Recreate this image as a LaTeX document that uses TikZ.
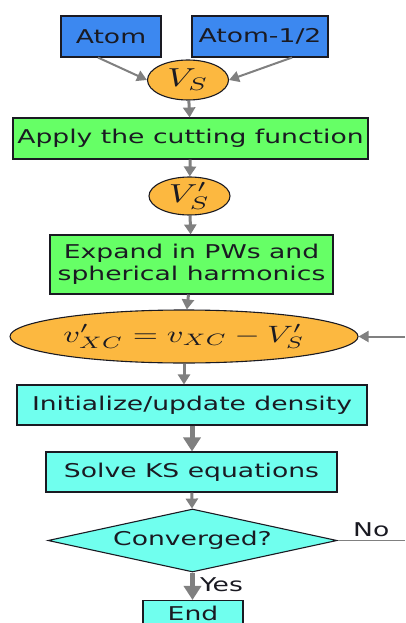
\documentclass[tikz,border=0pt]{standalone}
\usepackage{fontspec}
\newfontfamily\flowfont[FakeStretch=1.4]{DejaVu Sans}
\usetikzlibrary{shapes.geometric,arrows.meta}
\definecolor{atomblue}{RGB}{60,136,240}
\definecolor{stepgreen}{RGB}{102,255,102}
\definecolor{potorange}{RGB}{252,184,64}
\definecolor{loopcyan}{RGB}{112,255,238}
\definecolor{linkgray}{RGB}{128,128,128}
\definecolor{ink}{RGB}{26,26,34}
% math set at 10pt, then enlarged and widened like the sans text
\newcommand{\wmath}[2][1]{{\fontsize{10}{12}\selectfont\scalebox{\fpeval{3.56*#1}}[\fpeval{2.6*#1}]{$#2$}}}

\begin{document}
\begin{tikzpicture}[x=1pt,y=-1pt,
  txt/.style={font=\flowfont\fontsize{19}{22.5}\selectfont, text=ink, inner sep=0pt},
  shapebase/.style={txt, draw=ink, line width=1.1pt, align=center},
  blockbox/.style={shapebase, rectangle, minimum width=#1},
  bluebox/.style={blockbox=#1, fill=atomblue, minimum height=41pt},
  greenbox/.style={blockbox=#1, fill=stepgreen, minimum height=41pt},
  cyanbox/.style={blockbox=#1, fill=loopcyan, minimum height=40pt},
  potential/.style={shapebase, ellipse, fill=potorange},
  decision/.style={shapebase, diamond, fill=loopcyan, shape aspect=4.59},
  link/.style={draw=linkgray, line width=3pt, -{Triangle[length=10pt,width=12pt]}},
  thinlink/.style={draw=linkgray, line width=2pt, -{Triangle[length=10pt,width=11pt]}},
  thicklink/.style={draw=linkgray, line width=5pt, -{Triangle[length=14pt,width=17pt]}},
]
\useasboundingbox (0,0) rectangle (405,623);

\node[bluebox=100pt] (atom) at (111,36.5) {Atom};
\node[bluebox=136pt] (half) at (260,36.5) {Atom-1/2};
\node[potential, minimum width=81pt, minimum height=40pt] (vs) at (188,80) {\wmath{V_S}};
\node[greenbox=355pt] (cut) at (190.5,138.5) {Apply the cutting function};
\node[potential, minimum width=81pt, minimum height=38pt] (vsp) at (189.5,196) {\wmath{V'_S}};
\node[greenbox=283pt, minimum height=59pt] (expand) at (191.5,264.5) {Expand in PWs and\\spherical harmonics};
\node[potential, minimum width=348pt, minimum height=53pt] (vxc) at (184,336.5) {\wmath[0.91]{v'_{XC}=v_{XC}-V'_S}};
\node[cyanbox=350pt] (init) at (192,405) {Initialize/update density};
\node[cyanbox=291pt] (solve) at (191.5,472) {Solve KS equations};
\node[decision, minimum width=289pt, minimum height=63pt] (conv) at (192.5,540.5) {Converged?};
% the last box runs on past the lower edge
\node[blockbox=100pt, fill=loopcyan, minimum height=0pt, inner ysep=6pt,
      text height=13.5pt, text depth=10pt, anchor=base] (finish) at (193,620) {End};

\coordinate (loopin) at (405,336.5);
\coordinate (loopout) at (405,540.5);

\draw[thinlink] ([xshift=-13pt]atom.south) -- (vs.west);
\draw[thinlink] ([xshift=32pt]half.south) -- (vs.east);
\draw[link] (vs) -- (cut);
\draw[link] (cut) -- (vsp);
\draw[link] (vsp) -- (expand);
\draw[link] ([xshift=-3pt]expand.south) -- (vxc);
\draw[link] (vxc.south) -- (vxc.south |- init.north);
\draw[thicklink] (init.south) -- (init.south |- solve.north);
\draw[link] (solve) -- (conv);
\draw[thicklink] (conv.south) -- node[txt, right=5pt, pos=0.45] (yes) {Yes} (conv.south |- finish.north);
\draw[thinlink] (loopin) -- (vxc.east);
\draw[draw=linkgray, line width=1pt] (conv.east) -- node[txt, above=3pt, pos=0.5] (no) {No} (loopout);
\end{tikzpicture}
\end{document}
